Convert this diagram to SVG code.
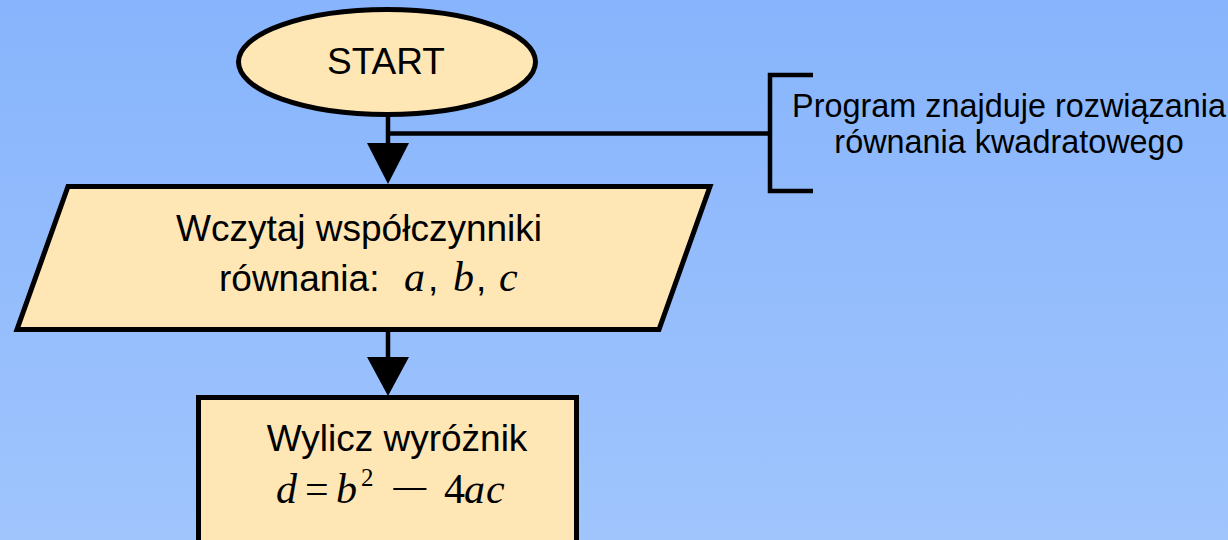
<svg xmlns="http://www.w3.org/2000/svg" width="1228" height="540" viewBox="0 0 1228 540">
  <defs>
    <linearGradient id="bg" x1="0" y1="0" x2="0" y2="1">
      <stop offset="0" stop-color="#87b4fc"/>
      <stop offset="1" stop-color="#a0c5fd"/>
    </linearGradient>
    <style>
      .box { fill: #fee6b5; stroke: #000; stroke-width: 5; stroke-linejoin: miter; }
      .line { fill: none; stroke: #000; stroke-width: 4.5; }
      .head { fill: #000; stroke: none; }
      .t { font-family: "Liberation Sans", Arial, sans-serif; font-size: 37px; fill: #000; }
      .note { font-family: "Liberation Sans", Arial, sans-serif; font-size: 32.4px; fill: #000; }
      .m { font-family: "Liberation Serif", "Times New Roman", serif; font-style: italic; font-size: 42px; fill: #000; }
      .mr { font-family: "Liberation Serif", "Times New Roman", serif; font-size: 42px; fill: #000; }
      .sup { font-family: "Liberation Serif", "Times New Roman", serif; font-size: 25px; fill: #000; }
    </style>
  </defs>
  <rect x="0" y="0" width="1228" height="540" fill="url(#bg)"/>

  <g id="connectors">
    <line class="line" x1="388" y1="114" x2="388" y2="145"/>
    <polygon class="head" points="367,143 409,143 388,184"/>
    <line class="line" x1="386" y1="133.5" x2="770" y2="133.5"/>
    <line class="line" x1="388" y1="329" x2="388" y2="359"/>
    <polygon class="head" points="367,357 409,357 388,396"/>
  </g>

  <g id="start">
    <ellipse class="box" cx="387" cy="62" rx="148.5" ry="52.5"/>
    <text class="t" x="386" y="74" text-anchor="middle">START</text>
  </g>

  <g id="comment">
    <path class="line" d="M813,75 H770 V191 H813" stroke-width="5"/>
    <text class="note" x="1009" y="117" text-anchor="middle">Program znajduje rozwiązania</text>
    <text class="note" x="1009" y="153" text-anchor="middle">równania kwadratowego</text>
  </g>

  <g id="input">
    <polygon class="box" points="68,186.5 710,186.5 659,329.5 17,329.5"/>
    <text class="t" x="359" y="241" text-anchor="middle">Wczytaj współczynniki</text>
    <text class="t" y="291"><tspan x="219">równania:</tspan><tspan class="m" x="404">a</tspan><tspan x="428">,</tspan><tspan class="m" x="453">b</tspan><tspan x="476">,</tspan><tspan class="m" x="499">c</tspan></text>
  </g>

  <g id="compute">
    <rect class="box" x="198.5" y="397.5" width="378" height="200"/>
    <text class="t" x="397" y="451" text-anchor="middle">Wylicz wyróżnik</text>
    <text y="503"><tspan class="m" x="276">d</tspan><tspan class="mr" x="305">=</tspan><tspan class="m" x="336">b</tspan><tspan class="sup" x="361" y="486">2</tspan><tspan class="mr" x="444" y="503">4</tspan><tspan class="m" x="464">a</tspan><tspan class="m" x="486">c</tspan></text>
    <text class="mr" transform="translate(410,503) scale(1.7,1)" text-anchor="middle">−</text>
  </g>
</svg>
